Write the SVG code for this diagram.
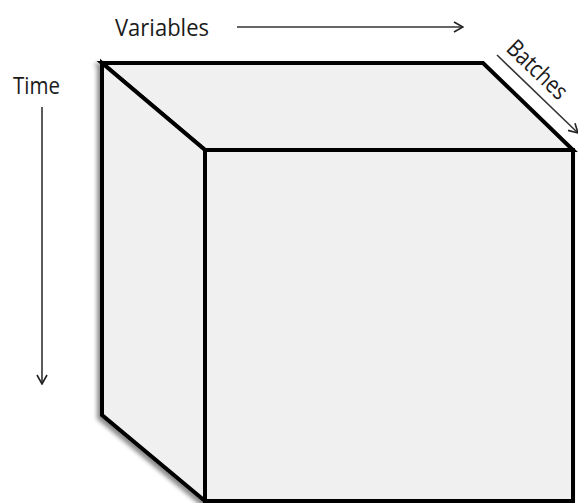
<svg xmlns="http://www.w3.org/2000/svg" width="578" height="503" viewBox="0 0 578 503">
  <defs>
    <filter id="soft-shadow" x="-10%" y="-10%" width="120%" height="120%">
      <feDropShadow dx="-3" dy="3" stdDeviation="2" flood-color="#000" flood-opacity="0.45"/>
    </filter>
    <marker id="open-head" viewBox="0 0 12 12" refX="11" refY="6" markerWidth="12" markerHeight="12" markerUnits="userSpaceOnUse" orient="auto">
      <path d="M2,1 L11,6 L2,11" fill="none" stroke="#222" stroke-width="1.6"/>
    </marker>
  </defs>
  <style>
    .face { fill: #f0f0f0; stroke: #000; stroke-width: 4; stroke-linejoin: miter; }
    .label { font-family: "Open Sans", "DejaVu Sans", sans-serif; font-size: 24px; fill: #1a1a1a; }
    .axis { fill: none; stroke: #333; stroke-width: 1.6; marker-end: url(#open-head); }
  </style>
  <rect width="578" height="503" fill="#fff"/>

  <!-- cube: top, left and front faces -->
  <g id="cube" filter="url(#soft-shadow)">
    <g id="top-face"><polygon class="face" points="102,63 483,63 573,150 205,150"/></g>
    <g id="left-face"><polygon class="face" points="102,63 205,150 205,501 102,415"/></g>
    <g id="front-face"><polygon class="face" points="205,150 573,150 573,501 205,501"/></g>
  </g>

  <!-- axis labels -->
  <g id="variables"><text class="label" x="115" y="36" textLength="94" lengthAdjust="spacingAndGlyphs">Variables</text></g>
  <g id="time"><text class="label" x="13" y="94" textLength="47" lengthAdjust="spacingAndGlyphs">Time</text></g>
  <g id="batches"><text class="label" font-size="23" transform="translate(505,50) rotate(43.7)" textLength="74" lengthAdjust="spacingAndGlyphs">Batches</text></g>

  <!-- axis arrows -->
  <g id="connectors">
    <line class="axis" x1="237" y1="27" x2="463" y2="27"/>
    <line class="axis" x1="42" y1="107" x2="42" y2="384"/>
    <line class="axis" x1="497" y1="55" x2="578" y2="133"/>
  </g>
</svg>
